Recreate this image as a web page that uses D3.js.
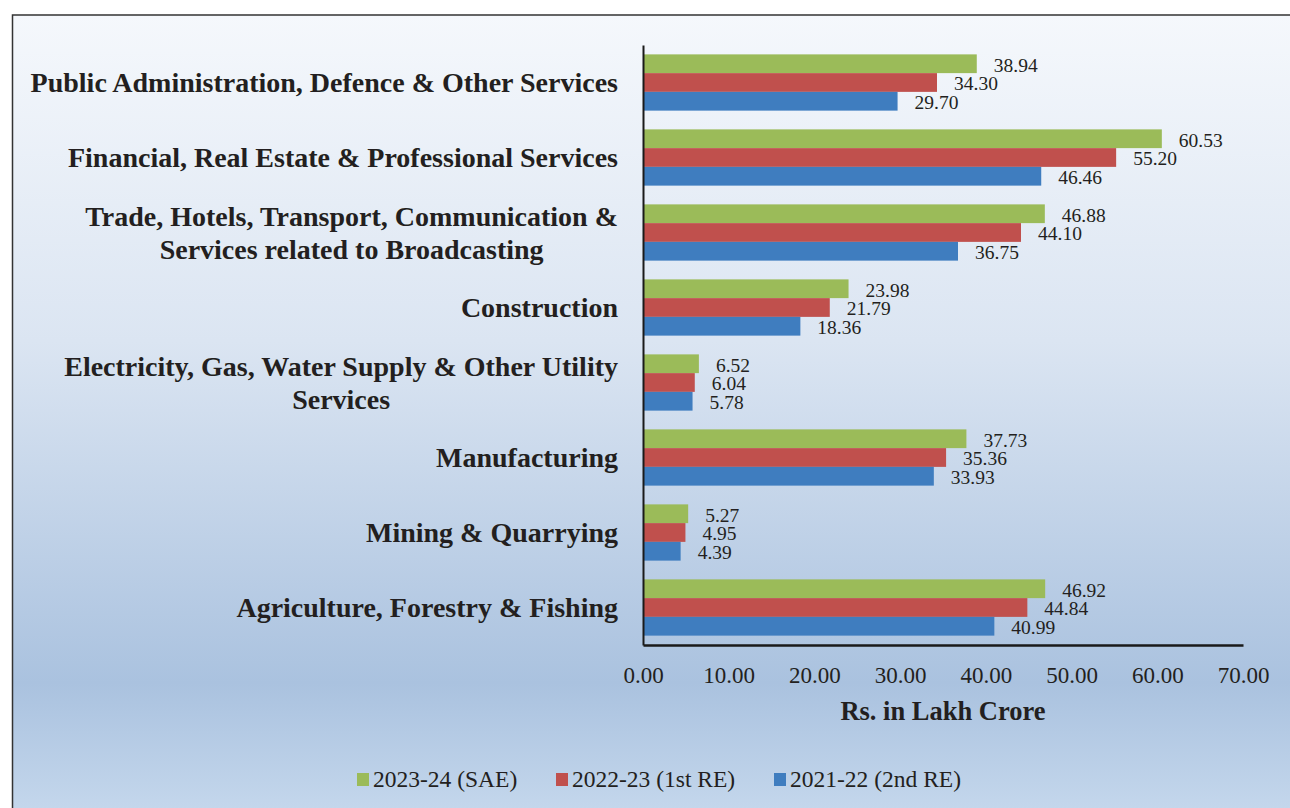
<!DOCTYPE html>
<html>
<head>
<meta charset="utf-8">
<title>GVA by sector</title>
<script src="https://d3js.org/d3.v7.min.js"></script>
<style>
  body { margin: 0; background: #fff; }
  svg { display: block; }
  text { font-family: "Liberation Serif", "Times New Roman", serif; fill: #231f20; }
</style>
</head>
<body>
<svg width="1290" height="808"></svg>
<script>
// categories, top to bottom (\n = line break in the label)
const categories = [
  'Public Administration, Defence & Other Services',
  'Financial, Real Estate & Professional Services',
  'Trade, Hotels, Transport, Communication &\nServices related to Broadcasting',
  'Construction',
  'Electricity, Gas, Water Supply & Other Utility\nServices',
  'Manufacturing',
  'Mining & Quarrying',
  'Agriculture, Forestry & Fishing'
];

const seriesNames = ['2023-24 (SAE)', '2022-23 (1st RE)', '2021-22 (2nd RE)'];

const values2324 = [38.94, 60.53, 46.88, 23.98, 6.52, 37.73, 5.27, 46.92];
const values2223 = [34.30, 55.20, 44.10, 21.79, 6.04, 35.36, 4.95, 44.84];
const values2122 = [29.70, 46.46, 36.75, 18.36, 5.78, 33.93, 4.39, 40.99];

const xTicks = [0, 10, 20, 30, 40, 50, 60, 70];

const colors = ['#9bbb59', '#c0504d', '#3f7dbf'];

const allValues = [values2324, values2223, values2122];

const svg = d3.select('svg');

// background frame with gradient
const defs = svg.append('defs');
const grad = defs.append('linearGradient')
  .attr('id', 'bg')
  .attr('x1', 0).attr('y1', 0).attr('x2', 0).attr('y2', 1);
grad.append('stop').attr('offset', '0%').attr('stop-color', '#f5f8fc');
grad.append('stop').attr('offset', '40%').attr('stop-color', '#dbe5f2');
grad.append('stop').attr('offset', '82%').attr('stop-color', '#aac2df');
grad.append('stop').attr('offset', '100%').attr('stop-color', '#c8daee');

svg.append('rect')
  .attr('x', 12.5).attr('y', 15)
  .attr('width', 1300).attr('height', 815)
  .attr('fill', 'url(#bg)')
  .attr('stroke', '#333')
  .attr('stroke-width', 1.5);

// scales
const x = d3.scaleLinear().domain([0, 70]).range([643, 1243]);

const y0 = d3.scaleBand()
  .domain(categories)
  .range([45, 645])
  .paddingInner(0.25)
  .paddingOuter(0.125);

const y1 = d3.scaleBand()
  .domain(seriesNames)
  .range([0, y0.bandwidth()]);

// bars
const rows = [];
categories.forEach((c, i) => {
  seriesNames.forEach((s, j) => {
    rows.push({ cat: c, series: s, value: allValues[j][i], color: colors[j] });
  });
});

const g = svg.append('g');

g.selectAll('rect.bar').data(rows)
  .enter().append('rect')
  .attr('class', 'bar')
  .attr('x', x(0))
  .attr('y', d => y0(d.cat) + y1(d.series))
  .attr('width', d => x(d.value) - x(0))
  .attr('height', y1.bandwidth())
  .attr('fill', d => d.color);

// value labels
g.selectAll('text.val').data(rows)
  .enter().append('text')
  .attr('class', 'val')
  .attr('x', d => x(d.value) + 17)
  .attr('y', d => y0(d.cat) + y1(d.series) + y1.bandwidth() / 2 + 1)
  .attr('dy', '0.35em')
  .style('font-size', '19.5px')
  .text(d => d.value.toFixed(2));

// x axis
const xAxis = d3.axisBottom(x)
  .tickValues(xTicks)
  .tickSize(0)
  .tickPadding(22)
  .tickFormat(d => d.toFixed(2));

const xAxisG = svg.append('g')
  .attr('transform', 'translate(0,645)')
  .call(xAxis);
xAxisG.select('.domain').attr('stroke', '#1a1a1a').attr('stroke-width', 2.5);
xAxisG.selectAll('text')
  .style('font-size', '23px')
  .attr('fill', '#231f20');

// y axis line
const yAxis = d3.axisLeft(y0).tickSize(0).tickFormat('');
const yAxisG = svg.append('g')
  .attr('transform', `translate(${x(0)},0)`)
  .call(yAxis);
yAxisG.select('.domain').attr('stroke', '#1a1a1a').attr('stroke-width', 2);

// category labels: block right-aligned at 618, lines centred within block
const catG = svg.append('g');
const labelRight = 618;
categories.forEach(c => {
  const lines = c.split('\n');
  const cy = y0(c) + y0.bandwidth() / 2;
  const lh = 33;
  const tspans = lines.map((ln, k) => catG.append('text')
    .style('font-size', '28px')
    .style('font-weight', 'bold')
    .attr('text-anchor', 'middle')
    .attr('y', cy + (k - (lines.length - 1) / 2) * lh)
    .attr('dy', '0.35em')
    .text(ln));
  const maxW = d3.max(tspans, t => t.node().getComputedTextLength());
  tspans.forEach(t => t.attr('x', labelRight - maxW / 2));
});

// axis title
svg.append('text')
  .attr('x', x(35))
  .attr('y', 720)
  .attr('text-anchor', 'middle')
  .style('font-size', '26.5px')
  .style('font-weight', 'bold')
  .text('Rs. in Lakh Crore');

// legend
const legendX = [357, 556, 774];
const legend = svg.append('g');
seriesNames.forEach((s, i) => {
  legend.append('rect')
    .attr('x', legendX[i]).attr('y', 773)
    .attr('width', 12).attr('height', 13)
    .attr('fill', colors[i]);
  legend.append('text')
    .attr('x', legendX[i] + 16)
    .attr('y', 787)
    .style('font-size', '23.5px')
    .text(s);
});
</script>
</body>
</html>
